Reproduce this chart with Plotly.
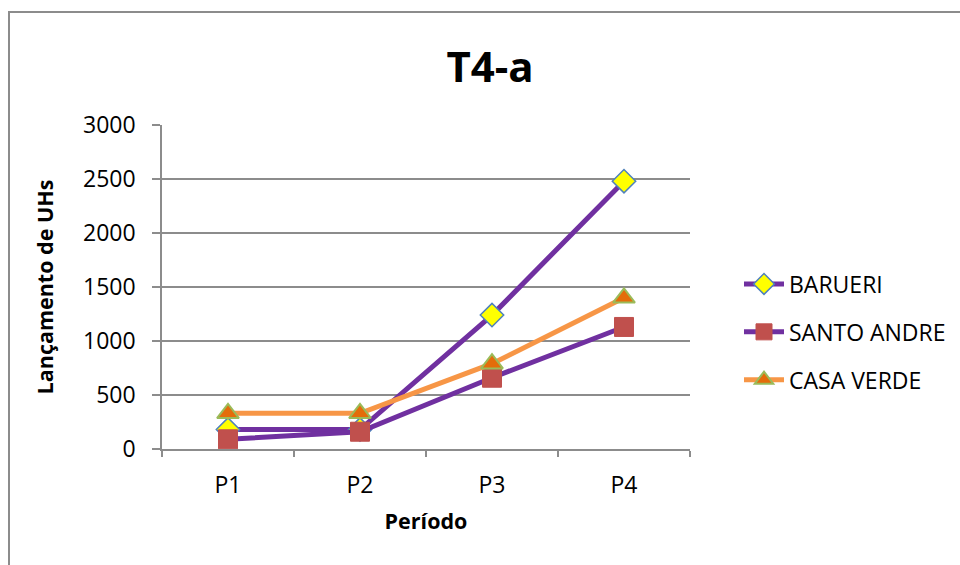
import plotly.graph_objects as go

# Launch counts (UHs) per period for each locality
periods = ["P1", "P2", "P3", "P4"]
barueri = [180, 180, 1240, 2480]
santo_andre = [90, 160, 660, 1130]
casa_verde = [330, 330, 790, 1400]
y_ticks = [0, 500, 1000, 1500, 2000, 2500, 3000]

FONT = "Open Sans, Lato, sans-serif"

fig = go.Figure()
fig.add_trace(go.Scatter(
    x=periods, y=barueri, name="BARUERI", mode="lines+markers",
    legendgroup="a",
    line=dict(color="#7030A0", width=5),
    marker=dict(symbol="diamond", size=18, color="#FFFF00",
                line=dict(color="#4F81BD", width=1.5)),
))
fig.add_trace(go.Scatter(
    x=periods, y=santo_andre, name="SANTO ANDRE", mode="lines+markers",
    legendgroup="b",
    line=dict(color="#7030A0", width=5),
    marker=dict(symbol="square", size=19, color="#C0504D",
                line=dict(color="#C0504D", width=1)),
))
fig.add_trace(go.Scatter(
    x=periods, y=casa_verde, name="CASA VERDE", mode="lines+markers",
    legendgroup="c",
    line=dict(color="#F79646", width=5),
    marker=dict(symbol="triangle-up", size=19, color="#E46C0A",
                line=dict(color="#9BBB59", width=2)),
))

L, R, T, B = 162, 270, 125, 116
pw, ph = 960 - L - R, 565 - T - B

# outer chart frame
fig.add_shape(type="rect", xref="paper", yref="paper",
              x0=(9 - L) / pw, x1=(975 - L) / pw,
              y0=-(600 - (565 - B)) / ph, y1=((565 - B) - 12) / ph,
              line=dict(color="#8C8C8C", width=2), fillcolor="rgba(0,0,0,0)",
              layer="below")

fig.update_layout(
    width=960, height=565,
    margin=dict(l=L, r=R, t=T, b=B, autoexpand=False),
    paper_bgcolor="white", plot_bgcolor="white",
    font=dict(family=FONT, color="black", size=24),
    title=dict(text="<b>T4-a</b>", x=490 / 960, xanchor="center",
               y=1 - 67 / 565, yanchor="middle",
               font=dict(size=42, family=FONT)),
    xaxis=dict(
        type="category", range=[-0.5, 3.5],
        showline=True, linecolor="#8C8C8C", linewidth=1.5,
        ticks="outside", ticklen=6, tickcolor="#8C8C8C", tickwidth=1.5,
        tickson="boundaries", showgrid=False,
        tickfont=dict(size=23), ticklabelstandoff=15,
        title=dict(text="<b>Período</b>", font=dict(size=21.5), standoff=15),
    ),
    yaxis=dict(
        range=[0, 3000], tickvals=y_ticks,
        showline=True, linecolor="#8C8C8C", linewidth=1.5,
        ticks="outside", ticklen=8, tickcolor="#8C8C8C", tickwidth=1.5,
        showgrid=True, gridcolor="#8C8C8C", gridwidth=1.5,
        zeroline=False, tickfont=dict(size=23), ticklabelstandoff=12,
        title=dict(text="<b>Lançamento de UHs</b>", font=dict(size=21.5), standoff=24),
    ),
    legend=dict(
        x=1 + (739 - (L + pw)) / pw, xanchor="left",
        y=1 - (332 - T) / ph, yanchor="middle",
        font=dict(size=23), tracegroupgap=15, itemwidth=40,
        bgcolor="rgba(0,0,0,0)",
    ),
)

fig.write_html("out.html")
